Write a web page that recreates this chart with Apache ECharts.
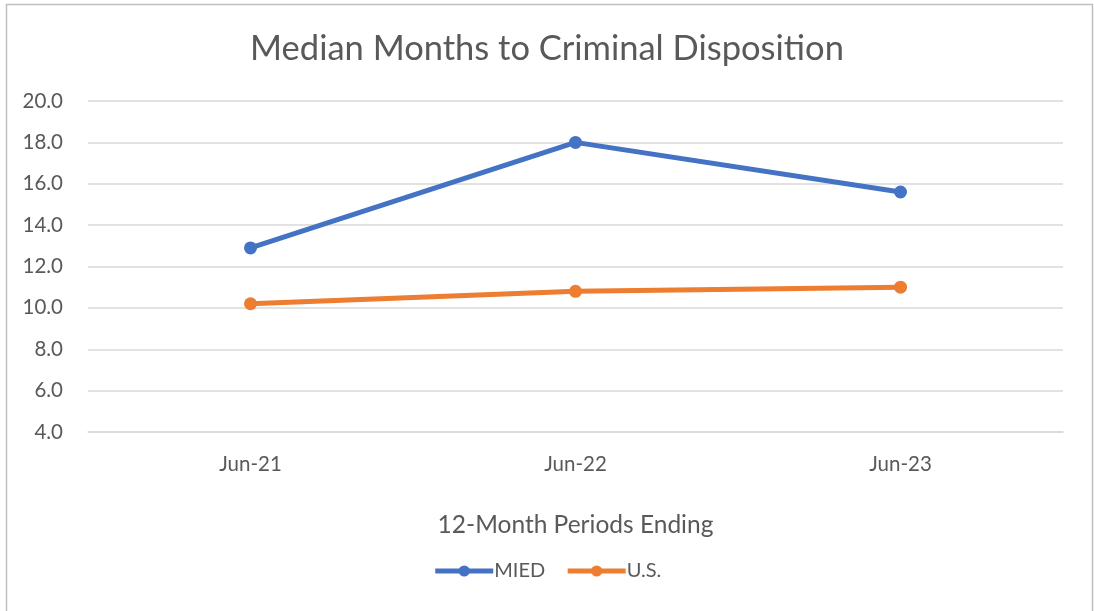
<!DOCTYPE html>
<html>
<head>
<meta charset="utf-8">
<script src="https://cdn.jsdelivr.net/npm/echarts@6/dist/echarts.min.js"></script>
<style>
html,body{margin:0;padding:0;background:#fff;}
#chart{width:1094px;height:611px;}
</style>
</head>
<body>
<div id="chart"></div>
<script>
const categories = ['Jun-21', 'Jun-22', 'Jun-23'];
const miedValues = [12.9, 18.0, 15.6];
const usValues = [10.2, 10.8, 11.0];
const seriesNames = ['MIED', 'U.S.'];
const titleText = 'Median Months to Criminal Disposition';
const xAxisTitle = '12-Month Periods Ending';

const FONT = 'Lato, "Open Sans", sans-serif';
const chart = echarts.init(document.getElementById('chart'));
chart.setOption({
  animation: false,
  color: ['#4472C4', '#ED7D31'],
  title: {
    text: titleText,
    left: 'center',
    top: 26,
    textStyle: { fontFamily: FONT, fontSize: 34.5, fontWeight: 'normal', color: '#595959' }
  },
  graphic: [{
    type: 'rect',
    shape: { x: 6.5, y: 4.5, width: 1086, height: 620 },
    style: { fill: 'none', stroke: '#BFBFBF', lineWidth: 1.5 },
    silent: true
  }],
  legend: {
    data: seriesNames,
    bottom: 25,
    left: 'center',
    itemWidth: 58,
    itemHeight: 14,
    itemGap: 20,
    lineStyle: { width: 5 },
    textStyle: { fontFamily: FONT, fontSize: 20, color: '#595959', padding: [0, 0, 0, -4] }
  },
  grid: { left: 88, right: 31, top: 101, bottom: 179, containLabel: false },
  xAxis: {
    type: 'category',
    data: categories,
    boundaryGap: true,
    name: xAxisTitle,
    nameLocation: 'middle',
    nameGap: 81,
    nameTextStyle: { fontFamily: FONT, fontSize: 24.5, color: '#595959' },
    axisLine: { show: true, lineStyle: { color: '#D9D9D9', width: 1.5 } },
    axisTick: { show: false },
    axisLabel: { fontFamily: FONT, fontSize: 20.5, color: '#595959', margin: 22 }
  },
  yAxis: {
    type: 'value',
    min: 4,
    max: 20,
    interval: 2,
    axisLine: { show: false },
    axisTick: { show: false },
    splitLine: { lineStyle: { color: '#D9D9D9', width: 1.5 } },
    axisLabel: {
      fontFamily: FONT, fontSize: 20.5, color: '#595959', margin: 25,
      formatter: v => v.toFixed(1)
    }
  },
  series: [
    {
      name: seriesNames[0], type: 'line', data: miedValues,
      symbol: 'circle', symbolSize: 13,
      lineStyle: { width: 5 }
    },
    {
      name: seriesNames[1], type: 'line', data: usValues,
      symbol: 'circle', symbolSize: 13,
      lineStyle: { width: 5 }
    }
  ]
});
</script>
</body>
</html>
